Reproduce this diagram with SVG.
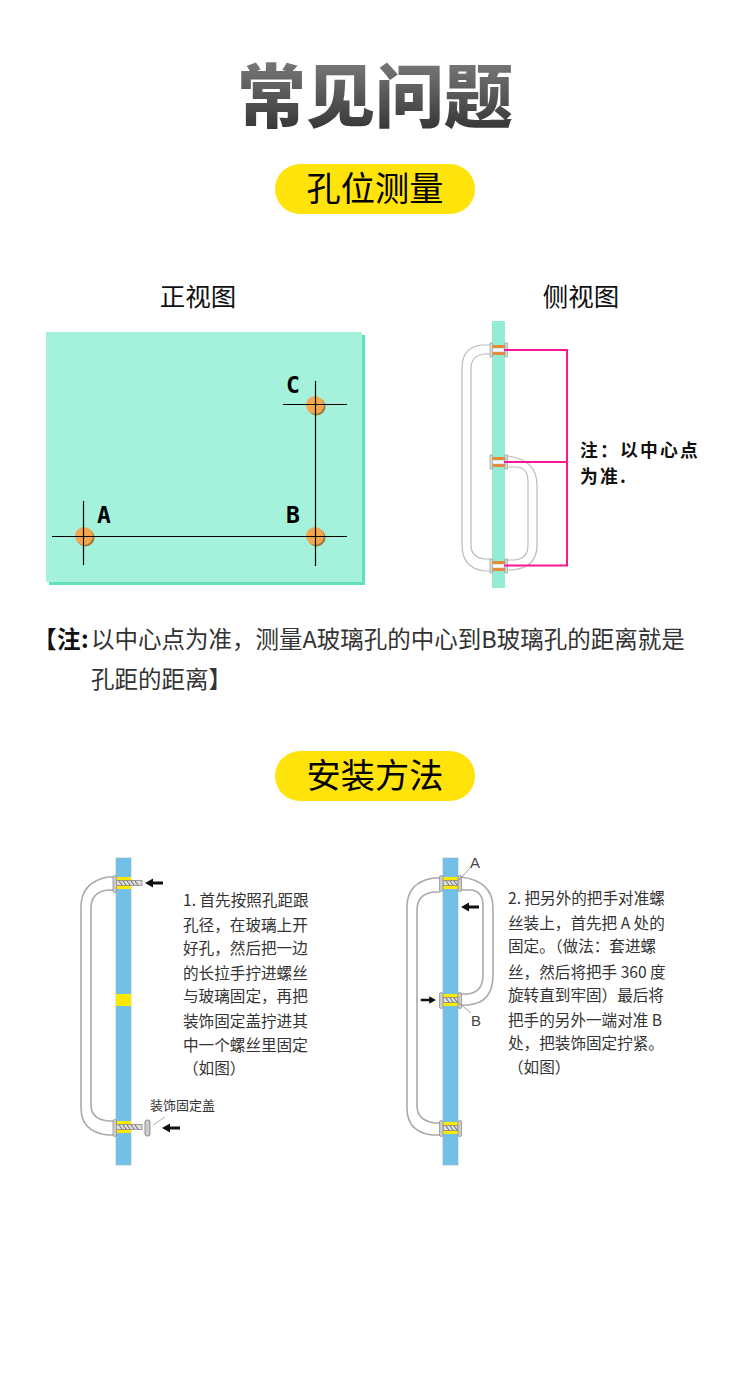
<svg xmlns="http://www.w3.org/2000/svg" width="750" height="1375" viewBox="0 0 750 1375">
<style>
text{font-family:"Noto Sans CJK SC","Noto Sans",sans-serif;fill:#111}
.h{font-size:34.200px;text-anchor:middle;fill:#000}
.sub{font-size:25.500px;text-anchor:middle;fill:#111}
.note{font-size:23.500px;fill:#333}
.s{font-size:15.600px;fill:#333}
.ln{stroke:#000;stroke-width:1.2;fill:none}
.tube{fill:none;stroke:#bbb;stroke-width:1.2}
.tube2{fill:none;stroke:#aaa;stroke-width:1.6}
.pink{fill:none;stroke:#ff1493;stroke-width:2}
.lab{font-family:"DejaVu Sans Mono","Liberation Mono",monospace;font-size:23px;font-weight:700;fill:#000}
.ar{fill:#111}
.glass{fill:#72bfe8;stroke:#8fb4c8;stroke-width:.6}
</style>
<defs>
<linearGradient id="tg" x1="0" y1="0" x2="0" y2="1">
<stop offset="0" stop-color="#8a8a8a"/><stop offset=".45" stop-color="#606060"/><stop offset="1" stop-color="#2a2a2a"/>
</linearGradient>
<g id="arr"><path class="ar" d="M0 0L8 -4.500V-1.500H18V1.500H8V4.500Z"/></g>
<g id="bolt1"><rect x="116" y="-6" width="15" height="12" fill="#ffe800"/><rect x="116" y="-2.500" width="26" height="5" fill="#ddd" stroke="#777" stroke-width=".7"/><path d="M119 -2L122 2M123 -2L126 2M127 -2L130 2M131 -2L134 2M135 -2L138 2" stroke="#666" stroke-width="1"/><rect x="113" y="-7.500" width="3.500" height="17" rx="1.500" fill="#ccc" stroke="#888" stroke-width=".7"/></g>
<g id="bolt2"><rect x="443" y="-6" width="15" height="12" fill="#ffe800"/><rect x="443" y="-2.500" width="15" height="5" fill="#ddd" stroke="#777" stroke-width=".7"/><path d="M446 -2L449 2M450 -2L453 2M454 -2L457 2" stroke="#666" stroke-width="1"/><rect x="439.500" y="-7.500" width="3.500" height="16" rx="1.500" fill="#ccc" stroke="#888" stroke-width=".7"/><rect x="458" y="-7.500" width="3.500" height="16" rx="1.500" fill="#ccc" stroke="#888" stroke-width=".7"/></g>
<g id="bolt3"><rect x="492" y="-5" width="13" height="10" fill="#f08a30"/><rect x="492" y="-2" width="13" height="4" fill="#fff" stroke="#999" stroke-width=".5"/><rect x="490" y="-7" width="2.500" height="14" fill="#ddd" stroke="#999" stroke-width=".7"/><rect x="505" y="-7" width="2.500" height="14" fill="#ddd" stroke="#999" stroke-width=".7"/></g>
</defs>

<g id="title"><text x="375" y="122" text-anchor="middle" font-size="69" style="fill:url(#tg);font-weight:900">常见问题</text></g>

<g id="badge-hole"><rect x="275" y="164" width="200" height="50" rx="25" fill="#ffe30b"/><text class="h" x="375" y="201">孔位测量</text></g>

<g id="front-view">
<text class="sub" x="198" y="306">正视图</text>
<rect x="49" y="335" width="316" height="250" fill="#62e0b8"/>
<rect x="46" y="332" width="316" height="250" fill="#a5f2dc"/>
<circle cx="85.500" cy="537.500" r="9" fill="#9a7a3a"/><circle cx="84" cy="536" r="9" fill="#f7a650"/>
<circle cx="316.500" cy="537.500" r="9" fill="#9a7a3a"/><circle cx="315" cy="536" r="9" fill="#f7a650"/>
<circle cx="316.500" cy="406.500" r="9" fill="#9a7a3a"/><circle cx="315" cy="405" r="9" fill="#f7a650"/>
<path class="ln" d="M52 536.500H347M83.500 501V565M315.500 381V566M283 404.500H347"/>
<text class="lab" x="97" y="523">A</text><text class="lab" x="286" y="523">B</text><text class="lab" x="286" y="393">C</text>
</g>

<g id="side-view">
<text class="sub" x="581" y="306">侧视图</text>
<rect x="492" y="321" width="13" height="267" fill="#93ecd3"/>
<path class="tube" d="M490 345H482Q462 347 462 368V545Q462 568 484 571H490"/>
<path class="tube" d="M490 354H484Q471 356 471 368V545Q471 557 484 559H490"/>
<path class="tube" d="M508 456Q537 460 537 485V545Q537 568 512 570H508"/>
<path class="tube" d="M508 467H516Q528 467 528 482V545Q528 559 514 560H508"/>
<use href="#bolt3" y="350"/><use href="#bolt3" y="462"/><use href="#bolt3" y="566"/>
<path class="pink" d="M504 350H567V565.500H504M504 462H567"/>
<text x="580" y="457" font-size="17.800" letter-spacing="2.200" font-weight="700" style="fill:#111">注：以中心点</text>
<text x="580" y="483" font-size="17.800" letter-spacing="2.200" font-weight="700" style="fill:#111">为准.</text>
</g>

<g id="note">
<text class="note" y="648"><tspan x="33" font-weight="700" style="fill:#111">【</tspan><tspan x="57" font-weight="700" style="fill:#111">注</tspan><tspan x="81" font-weight="700" style="fill:#111">:</tspan><tspan x="91">以中心点为准，测量A玻璃孔的中心到B玻璃孔的距离就是</tspan></text>
<text class="note" x="91" y="688">孔距的距离】</text>
</g>

<g id="badge-install"><rect x="275" y="751" width="200" height="50" rx="25" fill="#ffe30b"/><text class="h" x="375" y="788">安装方法</text></g>

<g id="step1">
<rect class="glass" x="116" y="858" width="15" height="307"/>
<rect x="116" y="994" width="15" height="12" fill="#ffe800"/>
<path class="tube2" d="M113 877H108Q81 882 81 907V1108Q81 1132 108 1135H113"/>
<path class="tube2" d="M113 890H108Q91 892 91 908V1105Q91 1119 108 1121H113"/>
<use href="#bolt1" y="883"/><use href="#bolt1" y="1127"/>
<rect x="145" y="1120" width="5" height="16" rx="2" fill="#ccc" stroke="#777" stroke-width=".8"/>
<path d="M153 1125L165 1117" stroke="#999" stroke-width=".8"/>
<use href="#arr" x="145" y="883"/><use href="#arr" x="162" y="1128"/>
<text class="s" x="183" y="906">1. 首先按照孔距跟</text>
<text class="s" x="183" y="931">孔径，在玻璃上开</text>
<text class="s" x="183" y="954">好孔，然后把一边</text>
<text class="s" x="183" y="979">的长拉手拧进螺丝</text>
<text class="s" x="183" y="1002">与玻璃固定，再把</text>
<text class="s" x="183" y="1027">装饰固定盖拧进其</text>
<text class="s" x="183" y="1051">中一个螺丝里固定</text>
<text class="s" x="183" y="1074">（如图）</text>
<text x="150" y="1110" font-size="13" style="fill:#333">装饰固定盖</text>
</g>

<g id="step2">
<rect class="glass" x="443" y="858" width="15" height="307"/>
<path class="tube2" d="M440 878H434Q407 882 407 907V1108Q407 1132 432 1135H440"/>
<path class="tube2" d="M440 892H434Q417 894 417 910V1106Q417 1120 434 1123H440"/>
<path class="tube2" d="M461 877Q493 881 493 908V975Q493 1003 468 1005H461"/>
<path class="tube2" d="M461 890H472Q483 892 483 906V975Q483 992 468 994H461"/>
<use href="#bolt2" y="883"/><use href="#bolt2" y="1000"/><use href="#bolt2" y="1128"/>
<path d="M459 880L470 868M459 1003L471 1013" stroke="#888" stroke-width=".8"/>
<text x="470" y="868" font-size="15" style="fill:#444;font-family:'Liberation Sans',sans-serif">A</text>
<text x="471" y="1026" font-size="15" style="fill:#444;font-family:'Liberation Sans',sans-serif">B</text>
<use href="#arr" x="461" y="907"/>
<use href="#arr" transform="translate(436 1000) scale(-.85 .85)"/>
<text class="s" x="508" y="904">2. 把另外的把手对准螺</text>
<text class="s" x="508" y="929">丝装上，首先把 A 处的</text>
<text class="s" x="508" y="952">固定。（做法：套进螺</text>
<text class="s" x="508" y="978">丝，然后将把手 360 度</text>
<text class="s" x="508" y="1001">旋转直到牢固）最后将</text>
<text class="s" x="508" y="1026">把手的另外一端对准 B</text>
<text class="s" x="508" y="1049">处，把装饰固定拧紧。</text>
<text class="s" x="508" y="1073">（如图）</text>
</g>
</svg>
